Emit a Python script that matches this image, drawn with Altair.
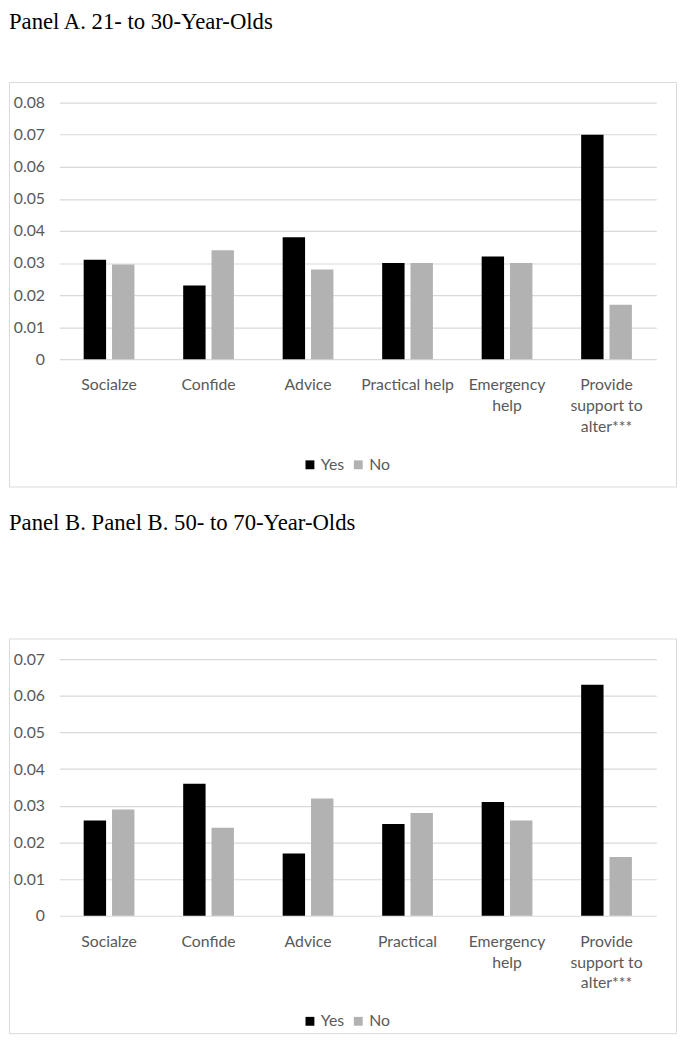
import altair as alt
import pandas as pd

# ---- data ----
categories_a = ["Socialze", "Confide", "Advice", "Practical help", "Emergency help", "Provide support to alter***"]
categories_b = ["Socialze", "Confide", "Advice", "Practical", "Emergency help", "Provide support to alter***"]
yes_a = [0.031, 0.023, 0.038, 0.030, 0.032, 0.070]
no_a = [0.0295, 0.034, 0.028, 0.030, 0.030, 0.017]
yes_b = [0.026, 0.036, 0.017, 0.025, 0.031, 0.063]
no_b = [0.029, 0.024, 0.032, 0.028, 0.026, 0.016]
ticks_a = [0, 0.01, 0.02, 0.03, 0.04, 0.05, 0.06, 0.07, 0.08]
ticks_b = [0, 0.01, 0.02, 0.03, 0.04, 0.05, 0.06, 0.07]
series = ["Yes", "No"]
series_colors = ["#000000", "#B2B2B2"]
title_a = "Panel A. 21- to 30-Year-Olds"
title_b = "Panel B. Panel B. 50- to 70-Year-Olds"


def make_df(cats, yes, no):
    rows = []
    for c, y, n in zip(cats, yes, no):
        rows.append({"category": c, "response": "Yes", "value": y})
        rows.append({"category": c, "response": "No", "value": n})
    return pd.DataFrame(rows)


LABEL_EXPR = (
    "datum.value == 'Emergency help' ? ['Emergency', 'help'] : "
    "datum.value == 'Provide support to alter***' ? ['Provide', 'support to', 'alter***'] : datum.label"
)
GRAY_TEXT = "#595959"
FONT = "Lato"


def panel(df, cats, ticks, title, title_offset, height):
    return (
        alt.Chart(
            df,
            title=alt.TitleParams(
                text=title, anchor="start", font="Liberation Serif", fontSize=23,
                fontWeight="normal", color="#000000", offset=title_offset,
            ),
        )
        .mark_bar()
        .encode(
            x=alt.X(
                "category:N", sort=cats,
                scale=alt.Scale(range=[51, 656], paddingInner=0.49, paddingOuter=0.245),
                axis=alt.Axis(
                    title=None, orient="bottom", offset=281 - height, labelAngle=0,
                    labelExpr=LABEL_EXPR, labelPadding=18, labelBaseline="top",
                    labelLineHeight=21, domain=False, ticks=False, grid=False,
                    labelOverlap=False, labelFont=FONT, labelFontSize=16,
                    labelColor=GRAY_TEXT, labelLimit=0,
                ),
            ),
            xOffset=alt.XOffset(
                "response:N", sort=series,
                scale=alt.Scale(paddingInner=0.21, paddingOuter=0),
            ),
            y=alt.Y(
                "value:Q",
                scale=alt.Scale(domain=[0, ticks[-1]], range=[281, 21], nice=False, zero=True),
                axis=alt.Axis(
                    title=None, values=ticks, offset=-36, domain=False, ticks=False,
                    tickSize=0, labelPadding=0, grid=True, gridColor="#D9D9D9",
                    gridWidth=1.2, labelFont=FONT, labelFontSize=16, labelColor=GRAY_TEXT,
                    labelExpr="datum.value == 0 ? '0' : format(datum.value, '.2f')",
                ),
            ),
            color=alt.Color(
                "response:N", sort=series,
                scale=alt.Scale(domain=series, range=series_colors),
                legend=alt.Legend(
                    title=None, orient="none", legendX=297, legendY=380,
                    direction="horizontal", symbolType="square", symbolSize=81,
                    symbolStrokeWidth=0, labelFont=FONT, labelFontSize=16,
                    labelColor=GRAY_TEXT, labelOffset=3, columnPadding=6, padding=0,
                ),
            ),
        )
        .properties(width=676, height=height)
    )


chart_a = panel(make_df(categories_a, yes_a, no_a), categories_a, ticks_a, title_a, 49, 410)
chart_b = panel(make_df(categories_b, yes_b, no_b), categories_b, ticks_b, title_b, 105, 400)

chart = (
    alt.vconcat(chart_a, chart_b, spacing=24)
    .resolve_scale(x="independent", y="independent", color="independent", xOffset="independent")
    .resolve_legend(color="independent")
    .properties(padding={"top": -5, "bottom": 0, "left": 0, "right": 0}, background="white")
    .configure_view(stroke="#D9D9D9", strokeWidth=1)
)

chart.save("out.html", embed_options={"renderer": "svg", "actions": False})
